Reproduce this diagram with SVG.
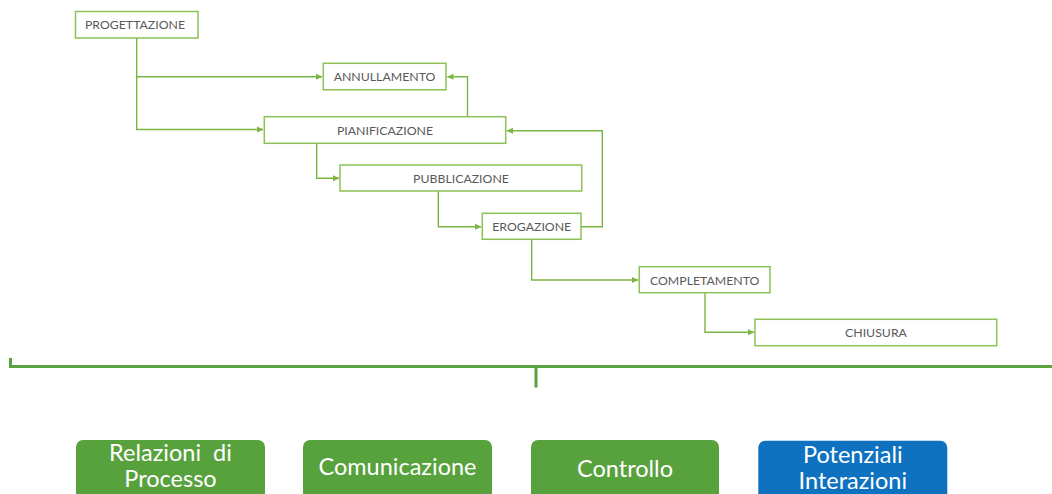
<svg xmlns="http://www.w3.org/2000/svg" width="1052" height="494" viewBox="0 0 1052 494">
<style>
.box{fill:#ffffff;stroke:#8dc153;stroke-width:1.5}
.lbl{font-family:Lato,"Liberation Sans",sans-serif;font-size:12.3px;fill:#595959;text-anchor:middle}
.con{fill:none;stroke:#7db544;stroke-width:1.4}
.brk{fill:none;stroke:#5aa33f;stroke-width:3}
.gbtn{fill:#58a23e}
.bbtn{fill:#0f72c0}
.big{font-family:Lato,"Liberation Sans",sans-serif;font-size:23.5px;fill:#ffffff;text-anchor:middle}
</style>
<defs>
<marker id="arr" markerWidth="7" markerHeight="7" refX="6" refY="3.5" orient="auto" markerUnits="userSpaceOnUse">
<path d="M0,0.5 L6.5,3.5 L0,6.5 Z" fill="#7db544"/>
</marker>
</defs>
<g id="connectors">
<path class="con" d="M136.7,38 V76.7 H322" marker-end="url(#arr)"/>
<path class="con" d="M136.7,76.7 V129.5 H263" marker-end="url(#arr)"/>
<path class="con" d="M489,116.7 H467.5 V76.7 H447.5" marker-end="url(#arr)"/>
<path class="con" d="M316.7,143.3 V178.3 H339" marker-end="url(#arr)"/>
<path class="con" d="M438.3,191 V226.7 H481" marker-end="url(#arr)"/>
<path class="con" d="M581,226.7 H602.3 V130.7 H507" marker-end="url(#arr)"/>
<path class="con" d="M531.7,239.3 V280 H638" marker-end="url(#arr)"/>
<path class="con" d="M705,292.7 V332.3 H754" marker-end="url(#arr)"/>
</g>
<g id="progettazione"><rect class="box" x="75.5" y="11.5" width="122.5" height="26.5"/><text class="lbl" x="135" y="29">PROGETTAZIONE</text></g>
<g id="annullamento"><rect class="box" x="323.3" y="63.3" width="122.7" height="26.5"/><text class="lbl" x="384.5" y="81">ANNULLAMENTO</text></g>
<g id="pianificazione"><rect class="box" x="264.3" y="116.7" width="241.4" height="26.6"/><text class="lbl" x="385" y="134.5">PIANIFICAZIONE</text></g>
<g id="pubblicazione"><rect class="box" x="340" y="165" width="241.7" height="26"/><text class="lbl" x="461" y="182.5">PUBBLICAZIONE</text></g>
<g id="erogazione"><rect class="box" x="482.3" y="213.3" width="98.7" height="26"/><text class="lbl" x="531.7" y="231">EROGAZIONE</text></g>
<g id="completamento"><rect class="box" x="639.3" y="266.7" width="130.7" height="26"/><text class="lbl" x="704.7" y="284.5">COMPLETAMENTO</text></g>
<g id="chiusura"><rect class="box" x="755" y="319.3" width="241.7" height="26.4"/><text class="lbl" x="876" y="337">CHIUSURA</text></g>
<g id="bracket">
<path class="brk" d="M10.5,358 V366.5 H1052"/>
<path class="brk" d="M536,366.5 V387.5"/>
</g>
<g id="relazioni"><rect class="gbtn" x="76" y="440" width="189" height="62" rx="7"/><text class="big" x="170.5" y="461" xml:space="preserve">Relazioni  di</text><text class="big" x="170.5" y="487">Processo</text></g>
<g id="comunicazione"><rect class="gbtn" x="303" y="440" width="189" height="62" rx="7"/><text class="big" x="397.5" y="475">Comunicazione</text></g>
<g id="controllo"><rect class="gbtn" x="531" y="440" width="188" height="62" rx="7"/><text class="big" x="625" y="477">Controllo</text></g>
<g id="potenziali"><rect class="bbtn" x="758.3" y="440.7" width="189" height="62" rx="7"/><text class="big" x="852.8" y="463">Potenziali</text><text class="big" x="852.8" y="489">Interazioni</text></g>
</svg>
